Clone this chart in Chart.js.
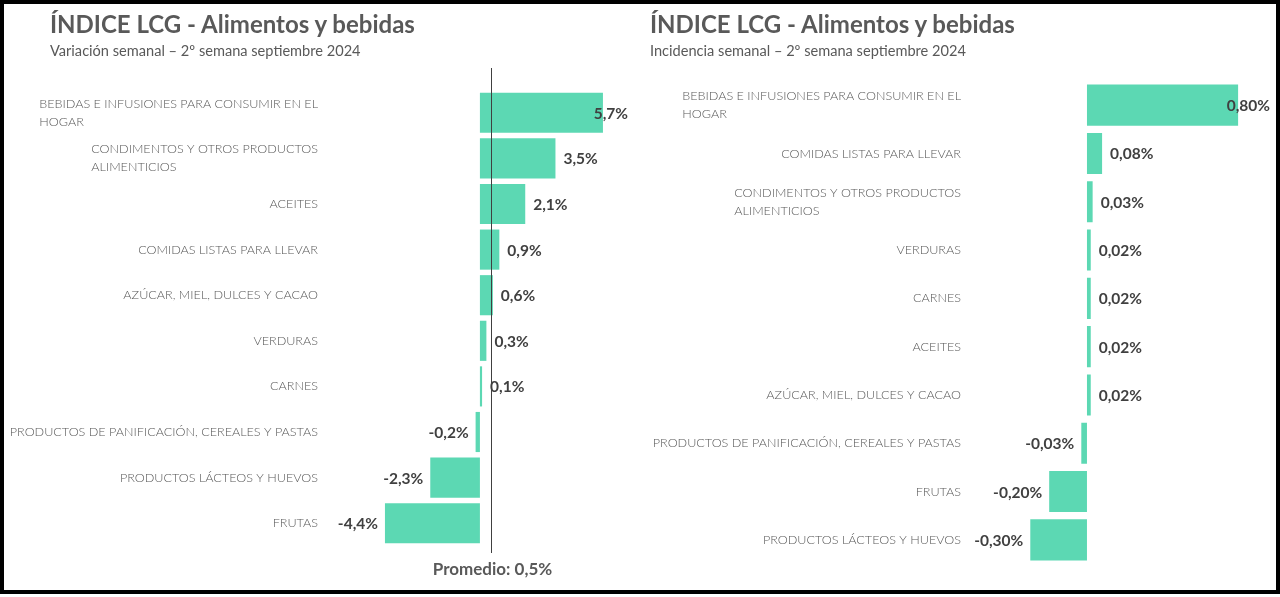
<!DOCTYPE html>
<html>
<head>
<meta charset="utf-8">
<script src="https://cdn.jsdelivr.net/npm/chart.js@4/dist/chart.umd.min.js"></script>
<style>
  html, body { margin:0; padding:0; background:#fff; }
  body { width:1280px; height:597px; position:relative; overflow:hidden; font-family: Lato, "Open Sans", sans-serif; }
  .frame { position:absolute; left:0; top:0; width:1272px; height:586px; border:4px solid #000; }
  .panel { position:absolute; top:0; width:640px; height:597px; }
  .title { position:absolute; font-weight:700; font-size:24px; color:#595959; white-space:nowrap; letter-spacing:0px; }
  .sub { position:absolute; font-weight:400; font-size:14.6px; color:#595959; white-space:nowrap; }
  canvas { position:absolute; left:0; top:0; }
</style>
</head>
<body>
<div class="panel" style="left:0">
  <canvas id="c1" width="640" height="597"></canvas>
  <div class="title" style="left:50px; top:9px;">ÍNDICE LCG - Alimentos y bebidas</div>
  <div class="sub" style="left:50px; top:42px;">Variación semanal – 2º semana septiembre 2024</div>
</div>
<div class="panel" style="left:640px">
  <canvas id="c2" width="640" height="597"></canvas>
  <div class="title" style="left:10px; top:9px;">ÍNDICE LCG - Alimentos y bebidas</div>
  <div class="sub" style="left:10px; top:42px;">Incidencia semanal – 2º semana septiembre 2024</div>
</div>
<div class="frame"></div>
<script>
// ---- Data ----
const leftCategories = [
  ["BEBIDAS E INFUSIONES PARA CONSUMIR EN EL", "HOGAR"],
  ["CONDIMENTOS Y OTROS PRODUCTOS", "ALIMENTICIOS"],
  "ACEITES",
  "COMIDAS LISTAS PARA LLEVAR",
  "AZÚCAR, MIEL, DULCES Y CACAO",
  "VERDURAS",
  "CARNES",
  "PRODUCTOS DE PANIFICACIÓN, CEREALES Y PASTAS",
  "PRODUCTOS LÁCTEOS Y HUEVOS",
  "FRUTAS"
];
const leftValues = [5.7, 3.5, 2.1, 0.9, 0.6, 0.3, 0.1, -0.2, -2.3, -4.4];
const leftAverage = 0.5;
const leftAverageLabel = "Promedio: ";

const rightCategories = [
  ["BEBIDAS E INFUSIONES PARA CONSUMIR EN EL", "HOGAR"],
  "COMIDAS LISTAS PARA LLEVAR",
  ["CONDIMENTOS Y OTROS PRODUCTOS", "ALIMENTICIOS"],
  "VERDURAS",
  "CARNES",
  "ACEITES",
  "AZÚCAR, MIEL, DULCES Y CACAO",
  "PRODUCTOS DE PANIFICACIÓN, CEREALES Y PASTAS",
  "FRUTAS",
  "PRODUCTOS LÁCTEOS Y HUEVOS"
];
const rightValues = [0.80, 0.08, 0.03, 0.02, 0.02, 0.02, 0.02, -0.03, -0.20, -0.30];

// ---- Styling ----
const BAR = '#5cd8b3';
const CAT_FONT = '300 12.6px Lato';
const CAT_COLOR = '#595959';
const VAL_FONT = '700 15.5px Lato';
const VAL_COLOR = '#404040';

function fmt(v, d) { return v.toFixed(d).replace('.', ',') + '%'; }

function labelsPlugin(cfg) {
  return {
    id: 'labels_' + cfg.id,
    afterDatasetsDraw(chart) {
      const ctx = chart.ctx;
      const xs = chart.scales.x, ys = chart.scales.y;
      const meta = chart.getDatasetMeta(0);
      ctx.save();
      // category labels (block right-aligned, lines left-aligned)
      ctx.font = CAT_FONT;
      ctx.fillStyle = CAT_COLOR;
      ctx.textBaseline = 'middle';
      ctx.textAlign = 'left';
      cfg.categories.forEach((c, i) => {
        const lines = Array.isArray(c) ? c : [c];
        const y = ys.getPixelForValue(i);
        const w = Math.max(...lines.map(l => ctx.measureText(l).width));
        const x0 = cfg.catRight - w;
        const lh = 18;
        lines.forEach((l, k) => {
          ctx.fillText(l, x0, y + (k - (lines.length - 1) / 2) * lh);
        });
      });
      // value labels
      ctx.font = VAL_FONT;
      ctx.fillStyle = VAL_COLOR;
      cfg.values.forEach((v, i) => {
        const el = meta.data[i];
        const t = fmt(v, cfg.dec);
        const w = ctx.measureText(t).width;
        let x;
        if (v >= 0) {
          x = el.x + 8;
          if (x + w > cfg.valRight) x = cfg.valRight - w;
        } else {
          x = el.x - 7 - w;
        }
        ctx.textAlign = 'left';
        ctx.fillText(t, x, el.y + 1);
      });
      // average line
      if (cfg.avg !== undefined) {
        const ax = Math.round(xs.getPixelForValue(cfg.avg)) + 0.5;
        ctx.strokeStyle = '#404040';
        ctx.lineWidth = 1;
        ctx.beginPath();
        ctx.moveTo(ax, 68);
        ctx.lineTo(ax, 553);
        ctx.stroke();
        ctx.font = '700 17px Lato';
        ctx.fillStyle = '#595959';
        ctx.textAlign = 'center';
        ctx.fillText(leftAverageLabel + fmt(cfg.avg, 1), ax + 1, 570);
      }
      ctx.restore();
    }
  };
}

function makeChart(id, cats, vals, opts) {
  return new Chart(document.getElementById(id), {
    type: 'bar',
    data: {
      labels: cats.map(c => Array.isArray(c) ? c.join(' ') : c),
      datasets: [{
        data: vals,
        backgroundColor: BAR,
        borderWidth: 0,
        barPercentage: opts.barPct,
        categoryPercentage: 1
      }]
    },
    options: {
      indexAxis: 'y',
      responsive: false,
      animation: false,
      devicePixelRatio: 1,
      layout: { padding: opts.padding },
      plugins: { legend: { display: false }, tooltip: { enabled: false }, title: { display: false } },
      scales: {
        x: { display: false, min: opts.min, max: opts.max },
        y: { display: false }
      }
    },
    plugins: [labelsPlugin({ id, categories: cats, values: vals, dec: opts.dec, catRight: opts.catRight, valRight: opts.valRight, avg: opts.avg })]
  });
}

makeChart('c1', leftCategories, leftValues, {
  min: -5, max: 7, dec: 1, barPct: 0.88,
  padding: { top: 90, bottom: 51, left: 372, right: 9 },
  catRight: 318, valRight: 628, avg: leftAverage
});
makeChart('c2', rightCategories, rightValues, {
  min: -0.4, max: 0.9, dec: 2, barPct: 0.85,
  padding: { top: 81, bottom: 33, left: 371.4, right: 23 },
  catRight: 321, valRight: 630
});
</script>
</body>
</html>
